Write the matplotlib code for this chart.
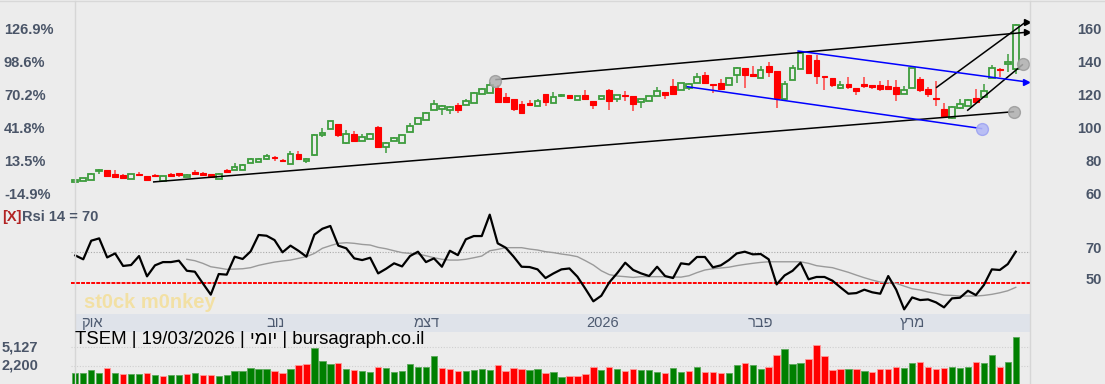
import matplotlib
matplotlib.use("Agg")
import matplotlib.pyplot as plt
import matplotlib.transforms as mtransforms
from matplotlib.lines import Line2D
import numpy as np

plt.rcParams['font.family'] = ['Liberation Sans', 'DejaVu Sans']

# ---- data (index = trading day) ----
opens = [67.3, 68.2, 68.8, 74.4, 74.8, 72.6, 72.0, 69.6, 72.6, 71.2,
         72.0, 68.2, 72.6, 72.8, 70.8, 73.8, 73.2, 72.2, 69.6, 75.0,
         74.9, 74.9, 79.3, 79.7, 81.3, 82.9, 80.7, 78.5, 84.5, 80.3,
         83.7, 95.9, 99.7, 102.7, 91.0, 96.7, 92.4, 93.6, 101.1, 88.6,
         92.4, 91.4, 97.9, 102.7, 105.1, 111.2, 111.6, 111.2, 114.2, 114.2,
         115.4, 120.9, 121.7, 124.5, 119.0, 117.8, 114.6, 115.4, 113.6, 120.7,
         115.4, 119.4, 120.1, 117.4, 120.3, 116.6, 117.6, 123.5, 117.6, 120.1,
         119.6, 115.8, 116.6, 119.7, 122.1, 125.7, 123.5, 124.5, 127.8, 132.2,
         126.8, 127.6, 126.6, 132.6, 136.7, 133.0, 130.8, 137.9, 134.9, 118.1,
         129.4, 136.1, 144.5, 141.5, 131.8, 130.6, 124.3, 126.9, 124.5, 127.0,
         126.4, 126.2, 125.7, 124.9, 120.9, 124.5, 130.0, 123.7, 118.3, 111.8,
         106.5, 112.2, 113.6, 118.5, 118.9, 130.6, 136.3, 138.9, 135.9]
closes = [68.6, 70.0, 72.6, 75.0, 71.0, 70.8, 69.8, 72.2, 71.6, 68.6,
          71.2, 71.2, 71.4, 72.0, 71.8, 72.6, 71.6, 70.6, 72.6, 73.4,
          76.9, 78.1, 81.7, 81.7, 83.3, 82.1, 80.3, 84.5, 81.7, 81.7,
          96.2, 97.5, 104.3, 96.0, 96.7, 92.6, 95.0, 96.7, 89.0, 91.4,
          94.2, 96.0, 101.5, 106.1, 109.6, 114.6, 113.6, 113.2, 111.2, 116.6,
          121.7, 124.1, 126.1, 116.2, 115.8, 111.8, 109.6, 114.0, 116.8, 115.8,
          118.8, 120.5, 118.6, 119.4, 118.0, 114.2, 119.8, 116.8, 120.3, 119.8,
          114.6, 117.8, 119.4, 122.9, 120.5, 121.1, 127.4, 127.0, 131.4, 127.4,
          126.2, 124.1, 130.6, 136.9, 132.2, 131.8, 135.3, 134.1, 118.7, 127.2,
          136.9, 145.6, 133.8, 131.8, 131.4, 126.1, 126.1, 125.3, 122.9, 126.0,
          125.0, 123.7, 123.7, 120.9, 123.1, 136.5, 123.1, 120.9, 117.9, 107.8,
          113.2, 115.0, 117.4, 115.8, 122.7, 136.5, 135.3, 140.3, 162.9]
highs = [69.0, 70.3, 73.2, 75.4, 75.0, 74.9, 72.6, 72.4, 73.6, 71.4,
         72.6, 71.4, 73.2, 73.0, 72.2, 74.8, 73.4, 72.4, 72.8, 75.2,
         78.9, 78.3, 82.0, 82.1, 84.3, 83.1, 81.7, 86.5, 86.5, 82.0,
         96.6, 100.3, 104.6, 103.0, 99.2, 98.5, 96.4, 97.0, 101.5, 91.6,
         94.6, 96.3, 103.5, 106.4, 109.9, 117.3, 114.0, 113.5, 115.2, 117.6,
         122.0, 124.4, 128.4, 126.1, 121.3, 118.0, 116.4, 117.2, 118.0, 120.9,
         122.1, 120.8, 120.3, 119.6, 123.6, 116.8, 120.0, 123.8, 120.6, 122.5,
         119.8, 118.0, 119.6, 124.9, 122.3, 129.9, 127.7, 127.3, 133.8, 134.4,
         127.0, 130.0, 130.9, 137.2, 136.9, 137.7, 137.9, 140.3, 135.1, 128.8,
         138.5, 147.0, 144.7, 144.5, 132.0, 130.8, 128.8, 131.0, 124.7, 131.0,
         126.6, 128.8, 129.4, 129.4, 125.7, 136.8, 131.0, 124.9, 128.8, 115.2,
         113.6, 117.8, 117.7, 123.9, 126.8, 138.3, 136.5, 144.9, 163.2]
lows = [67.0, 68.0, 68.6, 72.5, 70.8, 70.6, 69.2, 69.4, 71.4, 68.4,
        71.0, 68.0, 70.8, 70.8, 70.6, 72.4, 71.4, 70.2, 69.4, 73.2,
        74.7, 74.7, 79.1, 79.5, 81.1, 80.5, 80.1, 78.3, 81.5, 78.9,
        83.5, 94.7, 99.5, 95.0, 90.8, 92.4, 92.2, 93.4, 88.8, 85.4,
        92.2, 91.2, 97.7, 102.5, 104.9, 111.0, 108.0, 108.6, 109.6, 114.0,
        115.2, 120.7, 121.5, 116.0, 115.6, 110.8, 108.8, 113.8, 113.4, 113.6,
        115.2, 119.2, 118.0, 117.2, 117.8, 111.8, 117.4, 111.2, 115.8, 116.6,
        110.8, 112.6, 116.4, 119.5, 117.6, 120.9, 123.3, 123.1, 127.6, 127.2,
        121.7, 123.9, 126.4, 127.4, 124.7, 131.0, 130.6, 131.2, 112.7, 116.9,
        129.2, 135.9, 133.4, 126.8, 123.1, 125.3, 123.7, 123.9, 120.5, 124.3,
        123.9, 122.9, 123.5, 116.9, 120.7, 124.3, 121.9, 118.9, 113.7, 107.6,
        105.9, 112.0, 113.4, 115.6, 118.7, 130.4, 131.4, 134.0, 133.2]

volume = [990, 1100, 1470, 1100, 1780, 1100, 940, 940, 940, 1100,
          780, 570, 780, 780, 940, 1100, 780, 780, 570, 780,
          1310, 1310, 1840, 1680, 1730, 1310, 1100, 1730, 2310, 2530,
          5070, 3000, 2530, 2690, 1730, 1520, 1410, 1250, 2050, 1890,
          1200, 1360, 2530, 2050, 2050, 3800, 1890, 1730, 1410, 1410,
          1570, 1730, 1570, 2370, 1410, 1890, 1730, 1570, 1730, 1100,
          1250, 460, 620, 620, 940, 2050, 1570, 1940, 1730, 1410,
          1730, 1570, 1570, 1250, 1100, 1890, 1250, 1410, 1940, 1250,
          1250, 1100, 1100, 2370, 2690, 2370, 1730, 2050, 3960, 4910,
          2530, 2690, 3320, 5550, 3800, 1570, 1730, 1730, 1730, 1410,
          1250, 1730, 1730, 2050, 1890, 2690, 2840, 1940, 1730, 1890,
          1940, 1890, 2050, 2840, 2690, 3960, 2050, 2840, 6820]
vol_up = [1, 1, 1, 1, 0, 1, 0, 1, 1, 0,
          1, 0, 1, 1, 0, 1, 0, 0, 1, 1,
          1, 1, 1, 1, 1, 0, 0, 1, 0, 0,
          1, 1, 1, 0, 1, 0, 1, 1, 0, 1,
          1, 1, 1, 1, 1, 1, 0, 0, 0, 1,
          1, 1, 1, 0, 0, 0, 0, 1, 1, 0,
          1, 1, 0, 0, 0, 0, 1, 0, 1, 0,
          0, 1, 1, 1, 0, 1, 1, 0, 1, 0,
          0, 0, 1, 1, 0, 1, 1, 0, 0, 1,
          1, 1, 0, 0, 0, 0, 0, 1, 0, 1,
          0, 0, 0, 0, 1, 1, 0, 0, 0, 0,
          1, 1, 1, 0, 1, 1, 0, 1, 1]

rsi = [67.6, 65.1, 77.1, 78.6, 66.3, 68.9, 60.8, 61.4, 67.2, 54.1,
       61.2, 63.3, 63.3, 64.2, 57.7, 57.1, 49.6, 42.3, 55.6, 55.2,
       66.8, 65.3, 70.2, 80.8, 80.3, 77.5, 69.6, 73.9, 70.6, 66.8,
       81.0, 84.8, 86.6, 73.9, 72.2, 65.7, 64.6, 66.1, 56.0, 59.0,
       62.5, 60.5, 67.2, 70.0, 63.3, 65.7, 60.3, 70.6, 67.8, 78.0,
       80.1, 80.1, 93.9, 75.4, 72.6, 66.8, 60.3, 60.1, 58.6, 53.0,
       56.0, 58.6, 59.2, 53.9, 46.1, 38.0, 41.6, 50.2, 56.2, 62.9,
       58.2, 56.0, 54.3, 60.3, 54.3, 53.0, 62.5, 61.8, 66.6, 66.6,
       59.9, 61.2, 64.6, 68.9, 70.0, 68.3, 68.5, 65.1, 48.9, 54.7,
       57.7, 62.9, 52.2, 53.7, 53.7, 51.3, 47.0, 42.9, 43.3, 45.5,
       43.8, 42.9, 54.3, 45.5, 32.8, 40.5, 38.8, 39.2, 37.3, 34.1,
       39.9, 40.3, 44.8, 42.0, 48.5, 58.6, 58.2, 62.0, 70.0]
rsi_signal = [None] * 14 + [
       65.1, 64.2, 62.5, 60.3, 59.5, 58.6,
       58.8, 59.0, 59.7, 61.2, 62.3, 63.3, 64.0, 64.6, 65.7, 66.8,
       68.9, 72.2, 73.9, 75.4, 75.8, 75.4, 74.7, 74.3, 72.8, 71.9,
       70.6, 69.4, 68.9, 68.5, 67.4, 66.1, 65.1, 64.6, 64.6, 65.1,
       66.1, 67.2, 70.6, 71.5, 72.6, 72.6, 72.6, 71.7, 71.1, 70.0,
       69.4, 68.5, 67.8, 66.8, 64.2, 61.4, 57.7, 55.2, 54.3, 53.9,
       53.4, 53.9, 53.9, 53.9, 53.9, 53.7, 53.6, 54.5, 56.5, 58.2,
       59.0, 59.5, 60.0, 61.0, 61.8, 62.5, 63.1, 63.5, 63.5, 63.5,
       63.5, 63.5, 62.5, 61.0, 60.3, 59.7, 58.2, 56.7, 54.9, 53.2,
       51.7, 50.4, 50.0, 49.6, 47.8, 46.1, 45.3, 44.0, 43.1, 42.0,
       41.8, 41.4, 41.4, 41.4, 41.8, 42.5, 43.5, 44.8, 47.0]

month_labels = ["אוק", "נוב", "דצמ", "2026", "פבר", "מרץ"]
month_pos = [2.1, 25.1, 44.1, 66.1, 86.0, 105.1]

price_ticks = [160, 140, 120, 100, 80, 60]
base_close = 70.505
rsi_ticks = [70, 50]
vol_ticks = [5127, 2200]

# drawn trend lines: (x0, x1), (y0, y1) in index / price
black_lower = ([9.75, 117.8], [67.6, 110.2])
black_upper = ([52.7, 119.3], [129.6, 158.3])
blue_upper = ([90.6, 119.1], [147.0, 128.4])
blue_lower = ([76.7, 113.8], [125.4, 99.9])
short_up = ([108.0, 119.3], [124.7, 164.7])
short_low = ([111.9, 118.9], [110.8, 138.9])

title = "TSEM | 19/03/2026 | יומי | bursagraph.co.il"


def visual(s):
    # matplotlib has no bidi: flip hebrew words
    if any('\u0590' <= ch <= '\u05ff' for ch in s):
        return s[::-1]
    return s


BG = '#ececec'
SLATE = '#4a5568'
GREEN = '#3c9c3c'
RED = '#ff0000'

W, H = 1105, 384
fig = plt.figure(figsize=(W / 100, H / 100), dpi=100)
fig.patch.set_facecolor(BG)


def fx(px):
    return px / W


def fy(py):
    return 1 - py / H


x_left = 71.3
x_right = 1029.7
n = len(closes)
xs = np.arange(n)
xmax = 119.75

ax_p = fig.add_axes([fx(x_left), fy(205), (x_right - x_left) / W, 205 / H])
ax_r = fig.add_axes([fx(x_left), fy(314), (x_right - x_left) / W, 109 / H])
ax_d = fig.add_axes([fx(75.3), fy(331.7), (x_right - 75.3) / W, 17.7 / H])
ax_v = fig.add_axes([fx(x_left), 0, (x_right - x_left) / W, 52.3 / H])
for a in (ax_p, ax_r, ax_v):
    a.set_xlim(-0.5, xmax)
    a.axis('off')
    a.patch.set_alpha(0)
ax_d.set_xlim(0, xmax)
ax_d.set_ylim(0, 1)
ax_d.set_facecolor('#dfe3ea')
ax_d.set_xticks([])
ax_d.set_yticks([])
for s in ax_d.spines.values():
    s.set_visible(False)

# ---- price panel ----
ax_p.set_ylim(53.64, 177.88)
o = np.array(opens)
c = np.array(closes)
hi = np.array(highs)
lo = np.array(lows)
up = c >= o
ax_p.vlines(xs[up], lo[up], hi[up], color=GREEN, lw=1.1, zorder=2)
ax_p.vlines(xs[~up], lo[~up], hi[~up], color='#ff4040', lw=1.1, zorder=2)
ax_p.bar(xs[up], np.abs(c - o)[up], bottom=np.minimum(o, c)[up], width=0.7,
         facecolor=BG, edgecolor=GREEN, linewidth=1.3, zorder=3)
ax_p.bar(xs[~up], np.abs(c - o)[~up], bottom=np.minimum(o, c)[~up], width=0.72,
         facecolor=RED, edgecolor=RED, linewidth=0.8, zorder=3)

kw = dict(lw=1.1, zorder=4, solid_capstyle='butt')
ax_p.plot(*black_lower, color='black', **kw)
ax_p.plot(*black_upper, color='black', **kw)
ax_p.plot(*short_up, color='black', **kw)
ax_p.plot(*short_low, color='black', **kw)
ax_p.plot(*blue_upper, color='#0000ff', **kw)
ax_p.plot(*blue_lower, color='#0000ff', **kw)
grey_pts = [(black_lower[0][1], black_lower[1][1]),
            (black_upper[0][0], black_upper[1][0] - 1.0),
            (short_low[0][1], short_low[1][1])]
for gx, gy in grey_pts:
    ax_p.plot(gx, gy, 'o', ms=8.5, mfc='#b0b0b0', mec='#9a9a9a', alpha=0.85, zorder=5)
ax_p.plot(blue_lower[0][1], blue_lower[1][1], 'o', ms=8.5, mfc='#b4b9f6', mec='#9ea4f2',
          alpha=0.9, zorder=5)
for line, col in ((black_upper, 'black'), (short_up, 'black'), (blue_upper, '#0000ff')):
    ax_p.plot(line[0][1] + 0.15, line[1][1], '>', ms=5, color=col, zorder=6, clip_on=False)

tr_price = mtransforms.blended_transform_factory(fig.transFigure, ax_p.transData)
for p in price_ticks:
    fig.text(fx(1102), p, f"{p}", transform=tr_price, ha='right', va='center',
             fontsize=10.5, fontweight='bold', color=SLATE)
    fig.text(fx(4), p, f"{(p / base_close - 1) * 100:.1f}%", transform=tr_price,
             ha='left', va='center', fontsize=10.5, fontweight='bold', color=SLATE)

# ---- RSI panel ----
ax_r.set_ylim(29.81, 100.13)
ax_r.axhline(70, color='#aaaaaa', lw=0.8, ls=(0, (1, 1.5)), zorder=1)
ax_r.axhline(50, color=RED, lw=1.4, ls=(0, (2, 0.6)), zorder=1)
sig = np.array([np.nan if v is None else v for v in rsi_signal])
ax_r.plot(xs, sig, color='#9a9a9a', lw=1.0, zorder=2)
ax_r.plot(xs, rsi, color='black', lw=1.6, zorder=3)
tr_rsi = mtransforms.blended_transform_factory(fig.transFigure, ax_r.transData)
for v in rsi_ticks:
    fig.text(fx(1102), v + 2, f"{v}", transform=tr_rsi, ha='right', va='center',
             fontsize=10.5, fontweight='bold', color=SLATE)
fig.text(fx(2), fy(217), "[X]", ha='left', va='center', fontsize=10.5,
         fontweight='bold', color='#b22222')
fig.text(fx(22), fy(217), f"Rsi 14 = {rsi[-1]:.0f}", ha='left', va='center',
         fontsize=10.5, fontweight='bold', color=SLATE)
fig.text(fx(150), fy(302), "st0ck m0nkey", ha='center', va='center', fontsize=14.5,
         fontweight='bold', color='#f3e0a0', alpha=0.95, zorder=0)

# ---- date strip ----
for lab, pos in zip(month_labels, month_pos):
    ax_d.text(pos, 0.5, visual(lab), ha='center', va='center', fontsize=10.5,
              color='#4d5a70')

# ---- volume panel ----
vmin, vmax = -706, 7614
ax_v.set_ylim(vmin, vmax)
for v in vol_ticks:
    ax_v.axhline(v, color='#cfcfcf', lw=0.8, ls=(0, (1, 1.5)), zorder=1)
vol = np.array(volume, dtype=float)
vu = np.array(vol_up, dtype=bool)
ax_v.bar(xs[vu], vol[vu] - vmin, bottom=vmin, width=0.8, color='#008000',
         edgecolor='#5aa85a', linewidth=0.6, zorder=2)
ax_v.bar(xs[~vu], vol[~vu] - vmin, bottom=vmin, width=0.8, color=RED,
         edgecolor='#ff9a9a', linewidth=0.6, zorder=2)
tr_vol = mtransforms.blended_transform_factory(fig.transFigure, ax_v.transData)
for v in vol_ticks:
    fig.text(fx(2), v, f"{v:,}", transform=tr_vol, ha='left', va='center',
             fontsize=10.5, fontweight='bold', color=SLATE)

title_txt = " | ".join(visual(part) for part in title.split(" | "))
fig.text(fx(75), fy(340), title_txt, ha='left', va='center', fontsize=13.4, color='black')

# frame lines
fig.add_artist(Line2D([0, 1], [fy(1), fy(1)], color='#d8d8d8', lw=1))
fig.add_artist(Line2D([fx(74.7), fx(74.7)], [0, fy(1)], color='#d6d6d6', lw=1))
fig.add_artist(Line2D([fx(1029.7), fx(1029.7)], [0, fy(1)], color='#d6d6d6', lw=1))

fig.savefig("out.png", dpi=100, facecolor=BG)
